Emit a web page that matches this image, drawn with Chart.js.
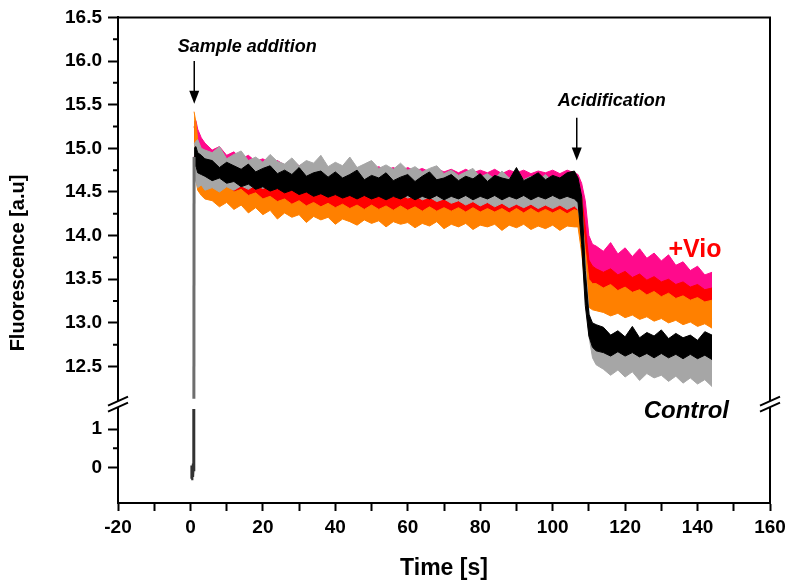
<!DOCTYPE html>
<html lang="en">
<head>
<meta charset="UTF-8">
<title>Fluorescence</title>
<script src="https://cdn.jsdelivr.net/npm/chart.js"></script>
<style>
  body { margin: 0; background: #fff; }
</style>
</head>
<body>
<canvas id="grafico" width="789" height="583"></canvas>

<script>
    // time axis (s) shared by all traces after sample addition
    const time = [1, 1.5, 2, 3, 4,
        6, 8, 10, 12, 14, 16, 18, 20, 22, 24, 26, 28, 30, 32, 34, 36, 38, 40, 42, 44, 46, 48, 50, 52, 54, 56,
        58, 60, 62, 64, 66, 68, 70, 72, 74, 76, 78, 80, 82, 84, 86, 88, 90, 92, 94, 96, 98, 100, 102, 104, 106,
        107, 108, 109, 110, 111, 112,
        114, 116, 118, 120, 122, 124, 126, 128, 130, 132, 134, 136, 138, 140, 142, 144];

    // each noisy trace as lower / upper edge of its band
    const blackHi = [15.00, 15.02, 14.95, 14.92, 14.88,
        14.86, 14.78, 14.84, 14.80, 14.76, 14.82, 14.73, 14.77, 14.80, 14.71, 14.75, 14.70, 14.78, 14.68, 14.72, 14.74,
        14.67, 14.73, 14.66, 14.70, 14.75, 14.64, 14.69, 14.66, 14.72, 14.63, 14.67, 14.70, 14.62, 14.68, 14.73, 14.64,
        14.66, 14.70, 14.63, 14.68, 14.65, 14.71, 14.62, 14.69, 14.66, 14.64, 14.78, 14.63, 14.67, 14.72, 14.64, 14.69,
        14.66, 14.72, 14.74,
        14.66, 14.45, 13.60, 13.10, 13.00, 12.98,
        12.95, 12.86, 12.91, 12.84, 12.96, 12.83, 12.89, 12.85, 12.92, 12.82, 12.88, 12.83, 12.86, 12.80, 12.90, 12.86];
    const blackLo = [14.78, 14.80, 14.72, 14.70, 14.68,
        14.63, 14.66, 14.60, 14.62, 14.56, 14.59, 14.53, 14.56, 14.51, 14.54, 14.49, 14.52, 14.47, 14.50, 14.45, 14.48,
        14.44, 14.47, 14.43, 14.46, 14.42, 14.46, 14.42, 14.45, 14.41, 14.45, 14.42, 14.46, 14.41, 14.45, 14.42, 14.46,
        14.41, 14.45, 14.42, 14.46, 14.41, 14.45, 14.42, 14.46, 14.41, 14.45, 14.42, 14.46, 14.41, 14.45, 14.42, 14.46,
        14.42, 14.45, 14.42,
        14.38, 13.90, 13.20, 12.85, 12.72, 12.68,
        12.66, 12.62, 12.67, 12.62, 12.66, 12.61, 12.65, 12.60, 12.65, 12.60, 12.64, 12.59, 12.64, 12.59, 12.63, 12.58];

    const grayHi = [15.05, 15.08, 15.10, 15.00, 14.98,
        14.95, 15.02, 14.88, 14.93, 14.97, 14.86, 14.90, 14.84, 14.93, 14.85, 14.82, 14.89, 14.80, 14.86, 14.83, 14.92,
        14.79, 14.84, 14.80, 14.90, 14.78, 14.82, 14.86, 14.77, 14.81, 14.76, 14.83, 14.75, 14.79, 14.73, 14.77, 14.80,
        14.71, 14.75, 14.69, 14.73, 14.77, 14.67, 14.71, 14.65, 14.74, 14.66, 14.70, 14.64, 14.68, 14.63, 14.70, 14.62,
        14.66, 14.61, 14.64,
        14.58, 14.40, 13.70, 13.15, 12.85, 12.78,
        12.74, 12.70, 12.73, 12.69, 12.72, 12.68, 12.71, 12.67, 12.70, 12.66, 12.69, 12.65, 12.68, 12.64, 12.67, 12.63];
    const grayLo = [14.70, 14.62, 14.55, 14.58, 14.52,
        14.55, 14.50, 14.56, 14.52, 14.57, 14.53, 14.58, 14.54, 14.58, 14.55, 14.59, 14.54, 14.58, 14.53, 14.57, 14.52,
        14.56, 14.51, 14.55, 14.50, 14.54, 14.49, 14.52, 14.47, 14.50, 14.45, 14.48, 14.43, 14.46, 14.41, 14.44, 14.39,
        14.42, 14.37, 14.40, 14.35, 14.39, 14.34, 14.38, 14.33, 14.37, 14.32, 14.36, 14.32, 14.36, 14.31, 14.35, 14.31,
        14.35, 14.30, 14.34,
        14.30, 14.10, 13.40, 12.85, 12.60, 12.52,
        12.47, 12.40, 12.46, 12.38, 12.44, 12.34, 12.42, 12.37, 12.40, 12.33, 12.39, 12.31, 12.37, 12.30, 12.35, 12.27];

    const orangeHi = [15.42, 15.30, 15.10, 14.85, 14.72,
        14.60, 14.56, 14.58, 14.50, 14.53, 14.46, 14.49, 14.42, 14.45, 14.39, 14.42, 14.36, 14.40, 14.34, 14.38, 14.33,
        14.37, 14.32, 14.36, 14.31, 14.35, 14.30, 14.35, 14.30, 14.34, 14.29, 14.34, 14.29, 14.33, 14.28, 14.33, 14.28,
        14.32, 14.28, 14.32, 14.27, 14.32, 14.27, 14.31, 14.27, 14.31, 14.26, 14.31, 14.26, 14.31, 14.26, 14.30, 14.26,
        14.30, 14.25, 14.30,
        14.28, 14.25, 13.85, 13.50, 13.45, 13.45,
        13.40, 13.44, 13.37, 13.41, 13.35, 13.38, 13.32, 13.36, 13.30, 13.34, 13.28, 13.31, 13.26, 13.29, 13.24, 13.26];
    const orangeLo = [14.80, 14.65, 14.52, 14.46, 14.42,
        14.40, 14.33, 14.38, 14.30, 14.35, 14.26, 14.32, 14.24, 14.29, 14.19, 14.26, 14.21, 14.24, 14.15, 14.22, 14.18,
        14.21, 14.13, 14.19, 14.16, 14.12, 14.18, 14.14, 14.17, 14.10, 14.16, 14.13, 14.15, 14.09, 14.14, 14.11, 14.16,
        14.08, 14.13, 14.10, 14.14, 14.07, 14.12, 14.10, 14.13, 14.06, 14.12, 14.09, 14.13, 14.07, 14.11, 14.08, 14.12,
        14.06, 14.11, 14.10,
        14.10, 13.80, 13.40, 13.18, 13.15, 13.14,
        13.12, 13.08, 13.11, 13.06, 13.09, 13.04, 13.07, 13.02, 13.05, 13.00, 13.03, 12.98, 13.01, 12.96, 12.99, 12.94];

    const redHi = [15.25, 15.15, 15.00, 14.90, 14.80,
        14.72, 14.66, 14.70, 14.62, 14.66, 14.58, 14.62, 14.56, 14.59, 14.53, 14.57, 14.51, 14.55, 14.50, 14.54, 14.49,
        14.53, 14.48, 14.52, 14.47, 14.51, 14.46, 14.51, 14.46, 14.50, 14.45, 14.50, 14.45, 14.49, 14.45, 14.49, 14.44,
        14.49, 14.44, 14.48, 14.44, 14.48, 14.44, 14.48, 14.43, 14.48, 14.43, 14.47, 14.43, 14.47, 14.43, 14.47, 14.43,
        14.47, 14.43, 14.48,
        14.46, 14.45, 14.10, 13.72, 13.65, 13.62,
        13.58, 13.62, 13.55, 13.59, 13.52, 13.56, 13.49, 13.53, 13.47, 13.50, 13.44, 13.47, 13.41, 13.44, 13.38, 13.40];
    const redLo = [14.75, 14.70, 14.58, 14.52, 14.50,
        14.48, 14.50, 14.44, 14.46, 14.40, 14.43, 14.37, 14.40, 14.34, 14.37, 14.32, 14.35, 14.30, 14.33, 14.28, 14.31,
        14.27, 14.30, 14.26, 14.29, 14.25, 14.29, 14.25, 14.28, 14.24, 14.28, 14.24, 14.27, 14.24, 14.27, 14.23, 14.27,
        14.23, 14.27, 14.23, 14.26, 14.23, 14.26, 14.22, 14.26, 14.22, 14.26, 14.22, 14.26, 14.22, 14.25, 14.22, 14.25,
        14.21, 14.25, 14.22,
        14.20, 14.05, 13.70, 13.35, 13.30, 13.28,
        13.26, 13.22, 13.25, 13.20, 13.23, 13.18, 13.21, 13.16, 13.19, 13.14, 13.17, 13.11, 13.14, 13.08, 13.11, 13.05];

    const pinkHi = [15.30, 15.32, 15.22, 15.12, 15.06,
        14.98, 15.02, 14.92, 14.96, 14.88, 14.92, 14.85, 14.88, 14.83, 14.86, 14.81, 14.85, 14.80, 14.83, 14.79, 14.82,
        14.78, 14.81, 14.77, 14.80, 14.76, 14.80, 14.76, 14.79, 14.75, 14.78, 14.74, 14.78, 14.74, 14.77, 14.73, 14.77,
        14.73, 14.76, 14.72, 14.76, 14.72, 14.75, 14.72, 14.76, 14.71, 14.75, 14.72, 14.75, 14.71, 14.74, 14.72, 14.75,
        14.71, 14.75, 14.72,
        14.70, 14.60, 14.40, 14.00, 13.90, 13.88,
        13.82, 13.92, 13.79, 13.86, 13.76, 13.85, 13.74, 13.80, 13.71, 13.78, 13.66, 13.70, 13.60, 13.65, 13.55, 13.58];
    const pinkLo = [14.90, 14.95, 14.85, 14.80, 14.75,
        14.70, 14.66, 14.65, 14.60, 14.62, 14.57, 14.59, 14.54, 14.57, 14.52, 14.55, 14.51, 14.54, 14.50, 14.53, 14.49,
        14.52, 14.48, 14.51, 14.48, 14.51, 14.47, 14.50, 14.47, 14.50, 14.46, 14.50, 14.46, 14.49, 14.46, 14.49, 14.45,
        14.49, 14.45, 14.48, 14.45, 14.48, 14.45, 14.48, 14.44, 14.48, 14.44, 14.47, 14.44, 14.47, 14.44, 14.47, 14.44,
        14.47, 14.44, 14.47,
        14.44, 14.30, 14.00, 13.62, 13.52, 13.50,
        13.48, 13.44, 13.47, 13.42, 13.45, 13.40, 13.43, 13.38, 13.41, 13.36, 13.39, 13.33, 13.36, 13.30, 13.33, 13.28];

    // baseline before sample addition (lower panel) and the jump up
    const baseTime = [0.2, 0.4, 0.6, 0.8, 0.9, 0.95];
    const baseF = [-0.3, 0.05, -0.25, 0.1, -0.1, 1.52];
    const riseTime = [0.95, 1.0];
    const riseF = [12.13, 14.9];

    const xTicks = [-20, 0, 20, 40, 60, 80, 100, 120, 140, 160];

    function pts(xs, ys) {
        return xs.map((x, i) => ({ x: x, y: ys[i] }));
    }

    function banda(cor, lo, hi) {
        return [
            { data: pts(time, lo), borderColor: cor, borderWidth: 1, pointRadius: 0, fill: false, yAxisID: 'y' },
            { data: pts(time, hi), borderColor: cor, backgroundColor: cor, borderWidth: 1, pointRadius: 0, fill: '-1', yAxisID: 'y' }
        ];
    }

    const datasets = [
        { data: pts(riseTime, riseF), borderColor: '#6e6e6e', borderWidth: 3, pointRadius: 0, yAxisID: 'y' },
        { data: pts(baseTime, baseF), borderColor: '#333', borderWidth: 3, pointRadius: 0, yAxisID: 'yLow' },
        ...banda('#000000', blackLo, blackHi),
        ...banda('#a6a6a6', grayLo, grayHi),
        ...banda('#ff8000', orangeLo, orangeHi),
        ...banda('#ff0000', redLo, redHi),
        ...banda('#ff0a8c', pinkLo, pinkHi)
    ];

    const ehMaior = (v, passo) => Math.abs(v / passo - Math.round(v / passo)) < 1e-6;
    const fonteTick = { family: 'Liberation Sans, Arial, sans-serif', size: 19, weight: 'bold' };

    const moldura = {
        id: 'moldura',
        afterDraw(chart) {
            const { ctx, chartArea: a, scales } = chart;
            const x = scales.x, yU = scales.y, yL = scales.yLow;
            ctx.save();
            ctx.strokeStyle = '#000';
            ctx.lineWidth = 2;
            // top and right border
            ctx.beginPath();
            ctx.moveTo(a.left, a.top);
            ctx.lineTo(a.right, a.top);
            ctx.lineTo(a.right, a.bottom);
            ctx.stroke();

            // minor ticks
            ctx.beginPath();
            yU.ticks.forEach(t => {
                if (ehMaior(t.value, 0.25) && !ehMaior(t.value, 0.5)) {
                    const p = yU.getPixelForValue(t.value);
                    ctx.moveTo(a.left - 5, p); ctx.lineTo(a.left, p);
                }
            });
            yL.ticks.forEach(t => {
                if (ehMaior(t.value, 0.5) && !ehMaior(t.value, 1) && t.value < 1.2) {
                    const p = yL.getPixelForValue(t.value);
                    ctx.moveTo(a.left - 5, p); ctx.lineTo(a.left, p);
                }
            });
            ctx.stroke();

            // axis break marks
            const yb = yU.bottom;
            [a.left, a.right].forEach(xb => {
                ctx.fillStyle = '#fff';
                ctx.beginPath();
                ctx.moveTo(xb - 10, yb + 1.5);
                ctx.lineTo(xb + 10, yb - 7.5);
                ctx.lineTo(xb + 10, yb - 1.5);
                ctx.lineTo(xb - 10, yb + 7.5);
                ctx.closePath();
                ctx.fill();
                ctx.beginPath();
                ctx.moveTo(xb - 10, yb + 1.5); ctx.lineTo(xb + 10, yb - 7.5);
                ctx.moveTo(xb - 10, yb + 7.5); ctx.lineTo(xb + 10, yb - 1.5);
                ctx.stroke();
            });

            // annotations
            ctx.fillStyle = '#000';
            ctx.textAlign = 'center';
            ctx.textBaseline = 'middle';
            ctx.font = 'italic bold 18px Liberation Sans, Arial, sans-serif';
            ctx.fillText('Sample addition', x.getPixelForValue(15.7), yU.getPixelForValue(16.16));
            ctx.fillText('Acidification', x.getPixelForValue(116.3), yU.getPixelForValue(15.54));
            seta(ctx, x.getPixelForValue(1.05), yU.getPixelForValue(16.0), yU.getPixelForValue(15.51));
            seta(ctx, x.getPixelForValue(106.65), yU.getPixelForValue(15.35), yU.getPixelForValue(14.86));

            ctx.fillStyle = '#ff0000';
            ctx.font = 'bold 25px Liberation Sans, Arial, sans-serif';
            ctx.fillText('+Vio', x.getPixelForValue(139.3), yU.getPixelForValue(13.83));
            ctx.fillStyle = '#000';
            ctx.font = 'italic bold 24px Liberation Sans, Arial, sans-serif';
            ctx.fillText('Control', x.getPixelForValue(136.9), yU.getPixelForValue(11.99));

            // y axis title
            ctx.translate(18, 263);
            ctx.rotate(-Math.PI / 2);
            ctx.font = 'bold 20px Liberation Sans, Arial, sans-serif';
            ctx.fillText('Fluorescence [a.u]', 0, 0);
            ctx.restore();
        }
    };

    function seta(ctx, px, y0, y1) {
        ctx.beginPath();
        ctx.lineWidth = 1.5;
        ctx.moveTo(px, y0);
        ctx.lineTo(px, y1 - 10);
        ctx.stroke();
        ctx.beginPath();
        ctx.moveTo(px - 5, y1 - 13);
        ctx.lineTo(px + 5, y1 - 13);
        ctx.lineTo(px, y1);
        ctx.closePath();
        ctx.fill();
    }

    const grafico = new Chart(document.getElementById('grafico'), {
        type: 'line',
        data: { datasets: datasets },
        options: {
            responsive: false,
            animation: false,
            events: [],
            layout: { padding: { left: 0, right: 19, top: 17, bottom: 0 } },
            plugins: { legend: { display: false }, tooltip: { enabled: false } },
            scales: {
                x: {
                    type: 'linear',
                    min: -20, max: 160,
                    afterFit: s => { s.height = 80; s.paddingLeft = 0; s.paddingRight = 0; },
                    border: { color: '#000', width: 2 },
                    grid: { drawOnChartArea: false, tickLength: 8, tickWidth: 2, tickColor: '#000' },
                    ticks: {
                        stepSize: 10, autoSkip: false, maxRotation: 0, padding: 5,
                        color: '#000', font: fonteTick,
                        callback: v => xTicks.includes(v) ? String(v) : ''
                    },
                    title: {
                        display: true, text: 'Time [s]', color: '#000',
                        font: { family: 'Liberation Sans, Arial, sans-serif', size: 23, weight: 'bold' },
                        padding: { top: 0, bottom: 1 }
                    }
                },
                y: {
                    type: 'linear',
                    position: 'left',
                    stack: 'quebra',
                    stackWeight: 387,
                    weight: 2,
                    min: 12.07, max: 16.5,
                    afterFit: s => { s.width = 118; },
                    border: { color: '#000', width: 2 },
                    grid: {
                        drawOnChartArea: false, tickLength: 10, tickWidth: 2,
                        tickColor: c => (c.tick && ehMaior(c.tick.value, 0.5)) ? '#000' : 'rgba(0,0,0,0)'
                    },
                    ticks: {
                        stepSize: 0.25, autoSkip: false, padding: 6, color: '#000', font: fonteTick,
                        callback: v => ehMaior(v, 0.5) ? v.toFixed(1) : ''
                    }
                },
                yLow: {
                    type: 'linear',
                    position: 'left',
                    stack: 'quebra',
                    stackWeight: 99,
                    weight: 1,
                    min: -0.93, max: 1.65,
                    afterFit: s => { s.width = 118; },
                    border: { color: '#000', width: 2 },
                    grid: {
                        drawOnChartArea: false, tickLength: 10, tickWidth: 2,
                        tickColor: c => (c.tick && ehMaior(c.tick.value, 1)) ? '#000' : 'rgba(0,0,0,0)'
                    },
                    ticks: {
                        stepSize: 0.5, autoSkip: false, padding: 6, color: '#000', font: fonteTick,
                        callback: v => ehMaior(v, 1) ? String(Math.round(v)) : ''
                    }
                }
            }
        },
        plugins: [moldura]
    });
</script>
</body>
</html>
